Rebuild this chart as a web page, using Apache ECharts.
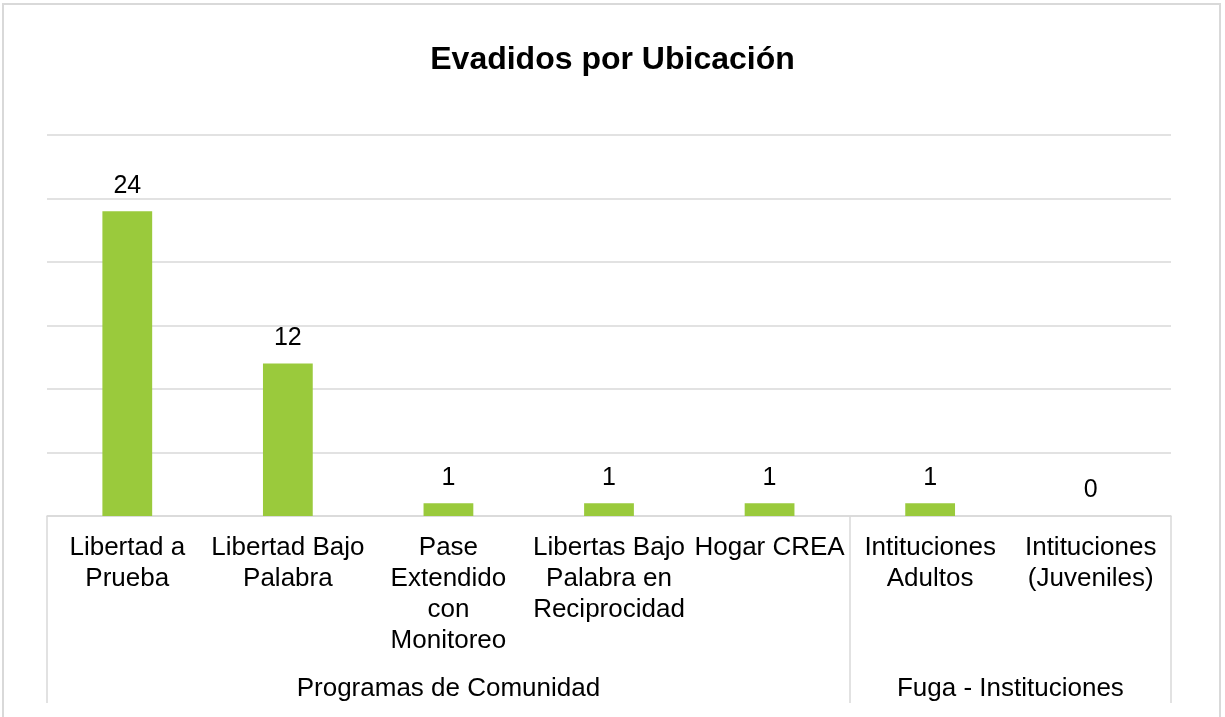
<!DOCTYPE html>
<html>
<head>
<meta charset="utf-8">
<script src="https://cdn.jsdelivr.net/npm/echarts@6/dist/echarts.min.js"></script>
<style>
  html, body { margin: 0; padding: 0; background: #fff; }
  #wrap { position: relative; width: 1225px; height: 717px; overflow: hidden; }
  #frame { position: absolute; left: 2px; top: 3px; width: 1219px; height: 760px; border: 2px solid #d9d9d9; box-sizing: border-box; }
  #chart { position: absolute; left: 0; top: 0; width: 1225px; height: 717px; }
</style>
</head>
<body>
<div id="wrap">
  <div id="frame"></div>
  <div id="chart"></div>
</div>
<script>
const chartTitle = 'Evadidos por Ubicación';
const categories = [
  'Libertad a\nPrueba',
  'Libertad Bajo\nPalabra',
  'Pase\nExtendido\ncon\nMonitoreo',
  'Libertas Bajo\nPalabra en\nReciprocidad',
  'Hogar CREA',
  'Intituciones\nAdultos',
  'Intituciones\n(Juveniles)'
];
const values = [24, 12, 1, 1, 1, 1, 0];
const groupNames = ['Programas de Comunidad', 'Fuga - Instituciones'];
const groupSizes = [5, 2];

// group boundaries and centres in category units
const boundaries = [0];
const centers = [];
groupSizes.forEach(function (s) {
  const start = boundaries[boundaries.length - 1];
  centers.push(start + s / 2);
  boundaries.push(start + s);
});

const FONT = "'Liberation Sans', Arial, sans-serif";
const TXT = '#000000';
const GRID = '#d9d9d9';

const chart = echarts.init(document.getElementById('chart'), null, { renderer: 'canvas' });
chart.setOption({
  animation: false,
  backgroundColor: 'transparent',
  title: {
    text: chartTitle,
    left: 'center',
    top: 39,
    textStyle: { fontFamily: FONT, fontSize: 32, fontWeight: 'bold', color: TXT }
  },
  grid: { left: 47, right: 54, top: 135, bottom: 201, containLabel: false },
  xAxis: [
    {
      type: 'category',
      data: categories,
      position: 'bottom',
      axisLine: { show: false },
      axisTick: { show: false },
      axisLabel: {
        interval: 0,
        margin: 16,
        fontFamily: FONT,
        fontSize: 26,
        lineHeight: 31,
        color: TXT,
        align: 'center'
      },
      splitLine: { show: false }
    },
    {
      type: 'value',
      min: 0,
      max: boundaries[boundaries.length - 1],
      position: 'bottom',
      axisLine: { show: true, lineStyle: { color: GRID, width: 1.5 } },
      axisTick: {
        show: true,
        customValues: boundaries,
        length: 187,
        lineStyle: { color: GRID, width: 1.5 }
      },
      axisLabel: {
        customValues: centers,
        margin: 157,
        fontFamily: FONT,
        fontSize: 26,
        lineHeight: 31,
        color: TXT,
        formatter: function (v) {
          const i = centers.indexOf(v);
          return i >= 0 ? groupNames[i] : '';
        }
      },
      splitLine: { show: false }
    }
  ],
  yAxis: {
    type: 'value',
    min: 0,
    max: 30,
    interval: 5,
    axisLine: { show: false },
    axisTick: { show: false },
    axisLabel: { show: false },
    splitLine: { show: true, lineStyle: { color: GRID, width: 1.5 } }
  },
  series: [{
    type: 'bar',
    xAxisIndex: 0,
    data: values,
    barWidth: '31%',
    itemStyle: { color: '#9aca3c' },
    label: {
      show: true,
      position: 'top',
      distance: 13,
      fontFamily: FONT,
      fontSize: 25,
      color: TXT
    }
  }]
});
</script>
</body>
</html>
